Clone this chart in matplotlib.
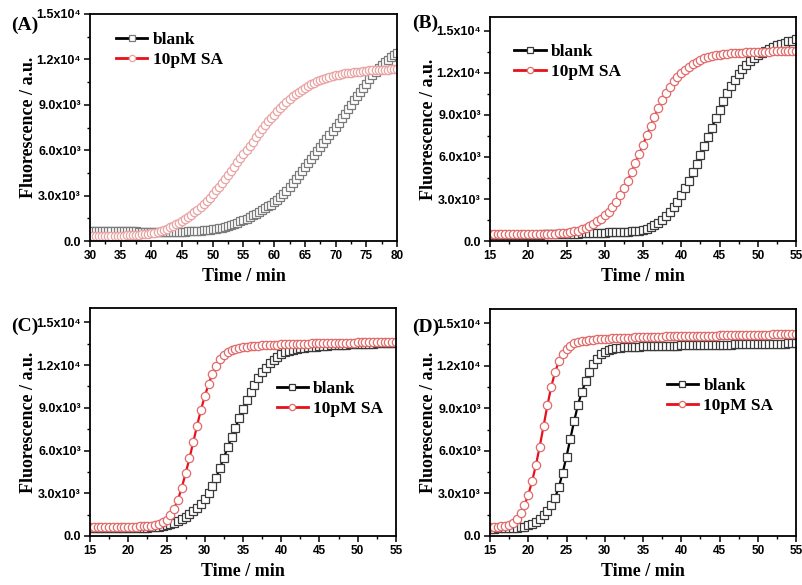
import numpy as np
import matplotlib
matplotlib.use("Agg")
import matplotlib.pyplot as plt
from matplotlib.ticker import MultipleLocator

SERIF = ["Liberation Serif", "DejaVu Serif"]
SANS = ["Liberation Sans", "DejaVu Sans"]

# fluorescence (x10^3 a.u.), one reading every 0.5 min
time_a = np.arange(30, 80.5, 0.5)
blank_a = [
    0.66, 0.66, 0.65, 0.65, 0.65, 0.65, 0.64, 0.64, 0.64, 0.64,
    0.64, 0.63, 0.63, 0.63, 0.63, 0.63, 0.62, 0.62, 0.62, 0.62,
    0.62, 0.62, 0.62, 0.62, 0.62, 0.62, 0.62, 0.62, 0.62, 0.62,
    0.62, 0.62, 0.63, 0.64, 0.65, 0.66, 0.68, 0.70, 0.72, 0.75,
    0.78, 0.81, 0.85, 0.89, 0.94, 0.99, 1.05, 1.12, 1.20, 1.29,
    1.38, 1.48, 1.58, 1.69, 1.80, 1.91, 2.03, 2.15, 2.28, 2.41,
    2.55, 2.72, 2.90, 3.10, 3.30, 3.55, 3.80, 4.07, 4.35, 4.62,
    4.90, 5.17, 5.45, 5.70, 5.95, 6.22, 6.50, 6.75, 7.00, 7.27,
    7.55, 7.82, 8.10, 8.40, 8.70, 9.00, 9.30, 9.57, 9.85, 10.12,
    10.40, 10.68, 10.95, 11.18, 11.40, 11.60, 11.80, 11.98, 12.15, 12.30,
    12.45,
]
sa_a = [
    0.30, 0.30, 0.30, 0.31, 0.31, 0.32, 0.32, 0.33, 0.33, 0.34,
    0.35, 0.36, 0.37, 0.38, 0.39, 0.40, 0.42, 0.44, 0.46, 0.48,
    0.50, 0.55, 0.60, 0.66, 0.72, 0.80, 0.90, 1.00, 1.10, 1.22,
    1.35, 1.47, 1.60, 1.75, 1.90, 2.07, 2.25, 2.45, 2.65, 2.87,
    3.10, 3.35, 3.60, 3.85, 4.10, 4.37, 4.65, 4.92, 5.20, 5.47,
    5.75, 6.02, 6.30, 6.57, 6.85, 7.12, 7.40, 7.65, 7.90, 8.12,
    8.35, 8.57, 8.80, 9.00, 9.20, 9.38, 9.55, 9.70, 9.85, 9.98,
    10.10, 10.23, 10.35, 10.45, 10.55, 10.63, 10.70, 10.78, 10.85, 10.90,
    10.95, 11.00, 11.05, 11.08, 11.10, 11.13, 11.15, 11.18, 11.20, 11.23,
    11.25, 11.27, 11.28, 11.29, 11.30, 11.31, 11.32, 11.33, 11.34, 11.35,
    11.35,
]

time_bcd = np.arange(15, 55.5, 0.5)
blank_b = [
    0.45, 0.45, 0.45, 0.45, 0.45, 0.45, 0.45, 0.45, 0.45, 0.45,
    0.45, 0.45, 0.46, 0.46, 0.47, 0.47, 0.48, 0.48, 0.49, 0.49,
    0.50, 0.51, 0.52, 0.53, 0.54, 0.55, 0.56, 0.57, 0.58, 0.59,
    0.60, 0.61, 0.62, 0.63, 0.64, 0.65, 0.67, 0.69, 0.71, 0.75,
    0.80, 0.88, 0.98, 1.12, 1.30, 1.52, 1.78, 2.08, 2.42, 2.80,
    3.25, 3.75, 4.30, 4.90, 5.52, 6.15, 6.80, 7.45, 8.10, 8.75,
    9.38, 9.98, 10.55, 11.05, 11.50, 11.90, 12.25, 12.56, 12.83, 13.06,
    13.26, 13.44, 13.60, 13.74, 13.87, 13.98, 14.08, 14.17, 14.25, 14.32,
    14.40,
]
sa_b = [
    0.50, 0.50, 0.50, 0.50, 0.50, 0.50, 0.50, 0.50, 0.50, 0.50,
    0.50, 0.50, 0.50, 0.50, 0.51, 0.51, 0.52, 0.53, 0.54, 0.55,
    0.58, 0.62, 0.68, 0.75, 0.84, 0.95, 1.08, 1.23, 1.40, 1.60,
    1.83, 2.10, 2.42, 2.80, 3.25, 3.75, 4.30, 4.90, 5.55, 6.20,
    6.88, 7.55, 8.22, 8.87, 9.48, 10.05, 10.56, 11.00, 11.40, 11.72,
    12.00, 12.24, 12.45, 12.64, 12.80, 12.94, 13.05, 13.14, 13.21, 13.27,
    13.32, 13.36, 13.39, 13.41, 13.43, 13.45, 13.46, 13.47, 13.48, 13.49,
    13.50, 13.51, 13.52, 13.53, 13.54, 13.55, 13.56, 13.57, 13.58, 13.59,
    13.60,
]
blank_c = [
    0.55, 0.55, 0.55, 0.55, 0.55, 0.55, 0.55, 0.55, 0.55, 0.55,
    0.55, 0.55, 0.56, 0.56, 0.57, 0.58, 0.60, 0.62, 0.65, 0.70,
    0.76, 0.84, 0.94, 1.06, 1.20, 1.36, 1.54, 1.76, 2.00, 2.28,
    2.62, 3.00, 3.50, 4.10, 4.80, 5.50, 6.22, 6.92, 7.60, 8.25,
    8.90, 9.52, 10.10, 10.62, 11.08, 11.48, 11.82, 12.12, 12.38, 12.58,
    12.75, 12.88, 12.98, 13.06, 13.12, 13.17, 13.21, 13.24, 13.27, 13.29,
    13.31, 13.33, 13.35, 13.37, 13.38, 13.40, 13.41, 13.42, 13.44, 13.45,
    13.46, 13.47, 13.48, 13.49, 13.50, 13.51, 13.52, 13.53, 13.54, 13.55,
    13.56,
]
sa_c = [
    0.66, 0.66, 0.66, 0.66, 0.66, 0.66, 0.66, 0.66, 0.66, 0.66,
    0.66, 0.66, 0.66, 0.67, 0.67, 0.68, 0.70, 0.74, 0.82, 0.95,
    1.15, 1.45, 1.90, 2.55, 3.40, 4.40, 5.45, 6.60, 7.75, 8.85,
    9.80, 10.65, 11.40, 11.95, 12.40, 12.70, 12.90, 13.03, 13.12, 13.19,
    13.24, 13.28, 13.31, 13.34, 13.36, 13.38, 13.40, 13.41, 13.42, 13.43,
    13.44, 13.45, 13.46, 13.47, 13.48, 13.49, 13.50, 13.50, 13.51, 13.52,
    13.52, 13.53, 13.54, 13.54, 13.55, 13.55, 13.56, 13.56, 13.57, 13.57,
    13.58, 13.58, 13.59, 13.59, 13.60, 13.60, 13.61, 13.61, 13.62, 13.62,
    13.63,
]
blank_d = [
    0.52, 0.52, 0.53, 0.53, 0.54, 0.55, 0.56, 0.58, 0.61, 0.65,
    0.75, 0.85, 1.00, 1.20, 1.45, 1.75, 2.15, 2.70, 3.45, 4.45,
    5.60, 6.85, 8.10, 9.25, 10.15, 10.90, 11.55, 12.10, 12.50, 12.80,
    13.00, 13.12, 13.19, 13.24, 13.27, 13.30, 13.32, 13.33, 13.34, 13.35,
    13.36, 13.37, 13.38, 13.38, 13.39, 13.40, 13.40, 13.41, 13.42, 13.42,
    13.43, 13.43, 13.44, 13.44, 13.45, 13.45, 13.46, 13.46, 13.47, 13.47,
    13.48, 13.48, 13.49, 13.49, 13.50, 13.50, 13.51, 13.51, 13.52, 13.52,
    13.53, 13.53, 13.54, 13.54, 13.55, 13.55, 13.56, 13.56, 13.57, 13.57,
    13.58,
]
sa_d = [
    0.64, 0.65, 0.66, 0.68, 0.72, 0.80, 0.95, 1.22, 1.60, 2.15,
    2.90, 3.85, 5.00, 6.30, 7.75, 9.20, 10.50, 11.55, 12.30, 12.82,
    13.18, 13.42, 13.58, 13.66, 13.72, 13.76, 13.80, 13.83, 13.86, 13.88,
    13.90, 13.92, 13.94, 13.95, 13.96, 13.97, 13.98, 13.99, 14.00, 14.01,
    14.02, 14.03, 14.04, 14.05, 14.06, 14.06, 14.07, 14.07, 14.08, 14.08,
    14.09, 14.09, 14.10, 14.10, 14.11, 14.11, 14.12, 14.12, 14.13, 14.13,
    14.14, 14.14, 14.15, 14.15, 14.16, 14.16, 14.17, 14.17, 14.18, 14.18,
    14.19, 14.19, 14.20, 14.20, 14.21, 14.21, 14.22, 14.22, 14.23, 14.23,
    14.24,
]

series_names = ["blank", "10pM SA"]
panel_tags = ["(A)", "(B)", "(C)", "(D)"]
ytick_vals = [0, 3000, 6000, 9000, 12000, 15000]
ytick_text = ["0.0", "3.0x10³", "6.0x10³", "9.0x10³", "1.2x10⁴", "1.5x10⁴"]

W, H = 803, 585
fig = plt.figure(figsize=(W / 100, H / 100), dpi=100)


def px_axes(left, top, right, bottom):
    return fig.add_axes([left / W, 1 - bottom / H, (right - left) / W, (bottom - top) / H])


def draw_panel(ax, t, blank, sa, xlim, ytop, leg_xy, faded=False):
    blank = np.asarray(blank) * 1e3
    sa = np.asarray(sa) * 1e3
    sq_edge = "#7a7a7a" if faded else "#3a3a3a"
    ci_edge = "#e9a3a3" if faded else "#e26a6a"
    ax.plot(t, blank, "-", color="black", lw=1.6, marker="s", ms=5.6,
            mfc="white", mec=sq_edge, mew=0.9, label=series_names[0])
    ax.plot(t, sa, "-", color="#e8101a", lw=1.6, marker="o", ms=6.0,
            mfc="white", mec=ci_edge, mew=0.9, label=series_names[1])

    ax.set_xlim(*xlim)
    ax.set_ylim(0, ytop)
    ax.xaxis.set_major_locator(MultipleLocator(5))
    ax.xaxis.set_minor_locator(MultipleLocator(2.5))
    ax.set_yticks(ytick_vals)
    ax.set_yticklabels(ytick_text)
    ax.yaxis.set_minor_locator(MultipleLocator(1500))
    ax.tick_params(which="major", direction="out", length=4, width=1.1, pad=2.5)
    ax.tick_params(which="minor", direction="out", length=2.5, width=1.0)
    for lab in ax.get_xticklabels():
        lab.set_family(SANS)
        lab.set_fontweight("bold")
        lab.set_fontsize(8.5)
    for lab in ax.get_yticklabels():
        lab.set_family(SANS)
        lab.set_fontweight("bold")
        lab.set_fontsize(9)
    for sp in ax.spines.values():
        sp.set_linewidth(1.3)

    ax.set_xlabel("Time / min", family=SERIF, fontweight="bold", fontsize=13)
    ax.set_ylabel("Fluorescence / a.u.", family=SERIF, fontweight="bold", fontsize=13)
    ax.xaxis.set_label_coords(0.5, -0.12)
    ax.yaxis.set_label_coords(-0.172, 0.5)

    leg = ax.legend(loc="upper left", bbox_to_anchor=leg_xy, frameon=False,
                    handlelength=1.8, handletextpad=0.3, labelspacing=0.2,
                    borderpad=0, borderaxespad=0, numpoints=1,
                    prop={"family": SERIF, "weight": "bold", "size": 12.5})
    for h in leg.legend_handles:
        h.set_markersize(4.5)
        h.set_linewidth(2.0)


ax_a = px_axes(90, 14, 397, 241)
draw_panel(ax_a, time_a, blank_a, sa_a, (30, 80), 15000, (0.085, 0.92), faded=True)
ax_b = px_axes(490, 17, 796, 241)
draw_panel(ax_b, time_bcd, blank_b, sa_b, (15, 55), 16000, (0.08, 0.88))
ax_c = px_axes(90, 308, 396, 536)
draw_panel(ax_c, time_bcd, blank_c, sa_c, (15, 55), 16000, (0.61, 0.68))
ax_d = px_axes(490, 309, 796, 536)
draw_panel(ax_d, time_bcd, blank_d, sa_d, (15, 55), 16000, (0.578, 0.695))

tag_pos = [(11, 25), (412, 23), (11, 326), (412, 327)]
for tag, (x, y) in zip(panel_tags, tag_pos):
    fig.text(x / W, 1 - y / H, tag, family=SERIF, fontweight="bold",
             fontsize=14, ha="left", va="center")

fig.savefig("out.png", dpi=100)
